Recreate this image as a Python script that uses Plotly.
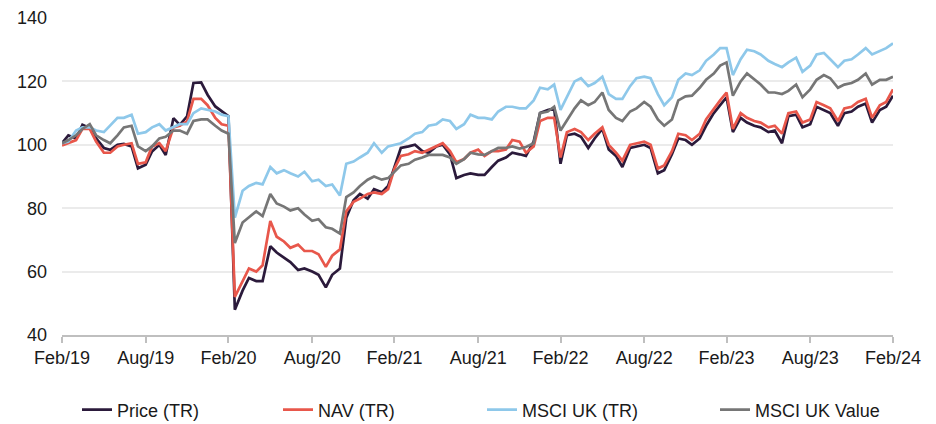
import pandas as pd
import plotly.graph_objects as go

# semi-monthly observation dates (1st and 15th), Mar 2019 .. Mar 2024
dates = pd.date_range("2019-03-01", "2024-03-01", freq="SMS")

price_tr = [
    100.5, 103, 102, 106.3, 105.3, 102, 99, 98.4, 100, 100.3, 99.5, 92.6, 93.7, 97.9, 100, 96.8,
    108.4, 106.3, 109, 119.5, 119.7, 115.8, 112.1, 110.5, 109,
    48, 54, 58, 57, 57, 68, 66, 64.5, 63, 60.5, 61, 60, 59, 55, 59, 61,
    77, 82.5, 84.5, 83, 86, 85, 87, 93, 99, 99.5, 100, 98, 97.5, 99.5, 100, 97, 89.5, 90.5, 91, 90.5,
    90.5, 93, 95, 96, 97.5, 97, 96.5, 101, 110, 111, 111.5, 94, 103, 103.5, 102.5, 99, 102, 105, 98.5, 96.5,
    93, 99, 99.5, 100, 99, 91, 92, 97, 102, 101.5, 100, 102, 106, 110, 112.5, 115, 104, 108.5, 107, 106,
    105.5, 104, 104.5, 100.5, 109, 109.5, 105.5, 106.5, 112, 111, 110, 106, 110, 110.5, 112, 113, 107, 111, 112, 115.5,
]
nav_tr = [
    99.8, 100.5, 101.5, 105, 105, 101, 97.5, 97.5, 99.5, 100, 100.5, 94, 94.5, 99.5, 100.5, 98,
    105.5, 106, 107.5, 114.5, 114.5, 112.5, 108.5, 106.5, 106,
    52, 57, 61, 60, 62, 76, 71, 69.5, 67.5, 68.5, 66.5, 66.5, 65.5, 61.5, 65, 67,
    79, 82, 83, 84.5, 85, 84.5, 86, 92.5, 96.5, 97, 98, 97.5, 98.5, 99.5, 100.5, 98, 94.5, 95.5, 97.5, 98.5,
    96.5, 98, 98, 98.5, 101.5, 101, 97.5, 99.5, 107.5, 108.5, 108.5, 96, 104, 105, 104, 101.5, 103.5, 105.5, 100, 97.5,
    95, 100, 100.5, 101, 100, 92.5, 93.5, 98, 103.5, 103, 101.5, 103.5, 108, 111.5, 114, 116.5, 105, 110, 108.5, 107.5,
    107, 105.5, 106, 103.5, 110, 110.5, 107, 108, 113.5, 112.5, 111.5, 107.5, 111.5, 112, 113.5, 114.5, 108.5, 112.5, 113.5, 117.5,
]
msci_uk_tr = [
    100.5, 101, 104.5, 105.5, 105.5, 104.5, 104, 106, 108.5, 108.5, 109.5, 103.5, 104, 105.5, 106.5, 104.5,
    105.5, 106.5, 106.5, 110, 111.5, 111, 110.5, 109.5, 109,
    77, 85.5, 87, 88, 87.5, 93, 91, 92, 91, 90, 91.5, 88.5, 89, 87, 87.5, 84,
    94, 94.7, 96, 97.5, 100.5, 97.5, 99.5, 100, 100.5, 102, 103.5, 104, 106, 106.5, 108, 107.5, 105, 106.5, 109.5, 108.5,
    108.5, 108, 110.5, 112, 112, 111.5, 111.5, 114, 118, 117.5, 119, 111, 115, 120, 121, 118.5, 119.5, 121.5, 116, 114.5,
    114.5, 118.5, 121, 121.5, 121, 116, 112.5, 115, 120.5, 122.5, 122, 123.5, 126.5, 128.5, 130.5, 130.5, 122, 127, 130, 129.5,
    128.5, 126.5, 125.5, 124.5, 126, 127.5, 123, 125, 128.5, 129, 127, 124.5, 126.5, 127, 128.5, 130.5, 128.5, 129.5, 130.5, 132,
]
msci_uk_value = [
    100.5, 101.5, 103, 105, 106.5, 103, 101.5, 100.5, 103, 105.5, 106, 99.5, 98, 99.5, 102, 102.5,
    104.5, 104.5, 103.5, 107.5, 108, 108, 106, 104.5, 103.5,
    69, 75.5, 77, 79, 77.5, 84.5, 81.5, 80.5, 79.3, 80, 78, 76, 76.5, 74, 73.5, 72,
    83.5, 85, 87, 89, 90, 89, 89.5, 91.5, 93.5, 94, 95.3, 96, 96.8, 96.8, 96.8, 96, 94, 95.5, 97.5, 97,
    96.8, 98, 99, 99, 99.5, 98.8, 99.3, 100.5, 110, 110.5, 112, 104.5, 107.5, 111.5, 114, 112.5, 113.5, 116.5, 111, 108.5,
    107.5, 110.5, 111.5, 113.5, 112, 108, 106, 108, 114, 115.3, 115.5, 118, 120.5, 122.5, 125, 126, 115.5, 120, 122.5, 120.5,
    119, 116.5, 116.5, 116, 117, 119, 115, 117.5, 120.5, 122, 121, 118, 119, 119.5, 120.5, 122.5, 119, 120.5, 120.5, 121.5,
]

series_names = ["Price (TR)", "NAV (TR)", "MSCI UK (TR)", "MSCI UK Value"]
series_values = [price_tr, nav_tr, msci_uk_tr, msci_uk_value]
series_colors = ["#2b1a3b", "#e8574b", "#8ec8ea", "#767676"]

tick_dates = ["2019-03-01", "2019-09-01", "2020-03-01", "2020-09-01", "2021-03-01", "2021-09-01",
              "2022-03-01", "2022-09-01", "2023-03-01", "2023-09-01", "2024-03-01"]
tick_labels = ["Feb/19", "Aug/19", "Feb/20", "Aug/20", "Feb/21", "Aug/21",
               "Feb/22", "Aug/22", "Feb/23", "Aug/23", "Feb/24"]
y_ticks = [40, 60, 80, 100, 120, 140]

legend_ids = ["legend", "legend2", "legend3", "legend4"]
legend_x_px = [77, 278, 482, 715]

fig = go.Figure()
for name, vals, col, lid in zip(series_names, series_values, series_colors, legend_ids):
    assert len(vals) == len(dates), (name, len(vals))
    fig.add_trace(go.Scatter(x=dates, y=vals, name=name, mode="lines", showlegend=True,
                             line=dict(color=col, width=2.7), legend=lid))

font = dict(family="Liberation Sans, Arial, sans-serif", size=18, color="#1a1a1a")
layout_legends = {}
for lid, px in zip(legend_ids, legend_x_px):
    layout_legends[lid] = dict(orientation="h", xref="container", yref="container",
                               x=px / 936, y=1 - 410 / 424, xanchor="left", yanchor="middle",
                               font=font, bgcolor="rgba(0,0,0,0)", borderwidth=0, visible=True)

fig.update_layout(
    width=936, height=424, autosize=False,
    margin=dict(l=62, r=43, t=18, b=89, autoexpand=False),
    showlegend=True,
    paper_bgcolor="white", plot_bgcolor="white",
    font=font,
    xaxis=dict(type="date", range=["2019-03-01", "2024-03-01"], tickvals=tick_dates, ticktext=tick_labels,
               showgrid=False, showline=True, linecolor="#bfbfbf", linewidth=1.5,
               ticks="outside", ticklen=6, tickcolor="#bfbfbf", tickwidth=1.5, zeroline=False),
    yaxis=dict(range=[40, 140], tickvals=y_ticks, showgrid=True, gridcolor="#ebebeb", gridwidth=2,
               zeroline=False, showline=False, ticks="", ticklabelstandoff=14),
    **layout_legends,
)

fig.write_html("out.html", config={"displayModeBar": False},
               post_script="document.body.style.margin='0';")
